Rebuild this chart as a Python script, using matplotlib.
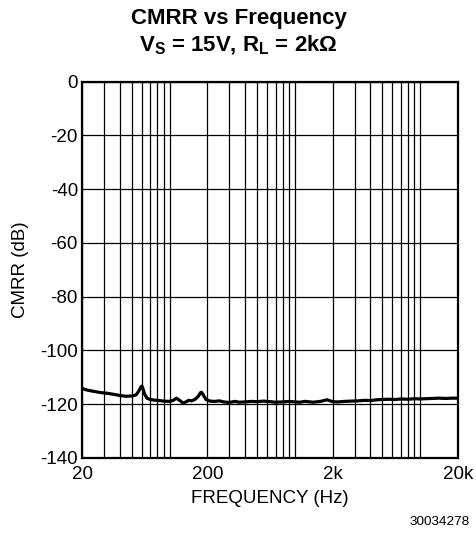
import numpy as np
import matplotlib
matplotlib.use('Agg')
import matplotlib.pyplot as plt
from matplotlib.ticker import FixedLocator, NullFormatter

plt.rcParams['font.family'] = ['Liberation Sans', 'DejaVu Sans']
plt.rcParams['mathtext.fontset'] = 'custom'
plt.rcParams['mathtext.rm'] = 'Liberation Sans'
plt.rcParams['mathtext.bf'] = 'Liberation Sans:bold'
plt.rcParams['axes.unicode_minus'] = False

# CMRR curve
freq = [20, 22, 25, 28, 32, 36, 40, 45, 50, 54, 57, 59, 60, 61, 63, 66, 70,
        75, 80, 90, 100, 107, 113, 120, 128, 135, 142, 150, 160, 170, 176,
        180, 185, 195, 210, 230, 250, 270, 300, 330, 360, 400, 450, 500, 560,
        630, 700, 800, 900, 1000, 1100, 1200, 1400, 1600, 1800, 2000, 2200,
        2500, 2800, 3200, 3600, 4000, 4500, 5000, 5600, 6300, 7000, 8000,
        9000, 10000, 11000, 12500, 14000, 16000, 18000, 20000]
cmrr = [-114.2, -114.8, -115.3, -115.7, -116.0, -116.4, -116.8, -117.1,
        -117.0, -116.6, -115.0, -113.6, -113.3, -114.0, -116.2, -117.8,
        -118.3, -118.5, -118.6, -118.9, -119.0, -118.6, -117.8, -118.6,
        -119.6, -119.2, -118.6, -118.8, -118.2, -117.0, -115.8, -115.6,
        -116.5, -118.3, -118.9, -119.0, -118.8, -119.2, -119.4, -119.0,
        -119.3, -119.2, -119.0, -119.1, -118.9, -119.1, -119.3, -119.2,
        -119.0, -119.2, -119.3, -119.0, -119.3, -119.0, -118.4, -119.1,
        -119.2, -119.0, -118.9, -118.8, -118.6, -118.7, -118.4, -118.3,
        -118.2, -118.3, -118.1, -118.2, -118.0, -118.1, -118.0, -117.9,
        -117.8, -117.9, -117.8, -117.8]

xticks = [20, 200, 2000, 20000]
xticklabels = ['20', '200', '2k', '20k']
yticks = [-140, -120, -100, -80, -60, -40, -20, 0]

fig = plt.figure(figsize=(4.77, 5.45), dpi=100)
ax = fig.add_axes([0.172, 0.160, 0.788, 0.690])

ax.plot(freq, cmrr, color='black', lw=2.3, solid_joinstyle='round')

ax.set_xscale('log')
ax.set_xlim(20, 20000)
ax.set_ylim(-140, 0)

# grid at every 10, 20, ..., 100, 200, ... like log paper
grid_x = [m * 10 ** d for d in range(1, 5) for m in range(1, 10)]
grid_x = [g for g in grid_x if 20 <= g <= 20000]
ax.xaxis.set_major_locator(FixedLocator(xticks))
ax.xaxis.set_minor_locator(FixedLocator(grid_x))
ax.xaxis.set_minor_formatter(NullFormatter())
ax.set_xticklabels(xticklabels)
ax.set_yticks(yticks)
ax.grid(True, which='both', color='black', lw=0.9)
ax.tick_params(which='both', length=0, labelsize=13.5)
ax.tick_params(axis='x', pad=6)
ax.tick_params(axis='y', pad=3)

for s in ax.spines.values():
    s.set_linewidth(1.6)

ax.set_xlabel('FREQUENCY (Hz)', fontsize=13.5, labelpad=5)
ax.set_ylabel('CMRR (dB)', fontsize=13.5, labelpad=8)

fig.text(0.50, 0.966, 'CMRR vs Frequency', ha='center', va='center',
         fontsize=16, fontweight='bold')
fig.text(0.50, 0.917, r'V$_\mathbf{S}$ = 15V, R$_\mathbf{L}$ = 2kΩ',
         ha='center', va='center', fontsize=16, fontweight='bold')
fig.text(0.985, 0.042, '30034278', ha='right', va='center', fontsize=9.7)

fig.savefig('out.png', dpi=100)
